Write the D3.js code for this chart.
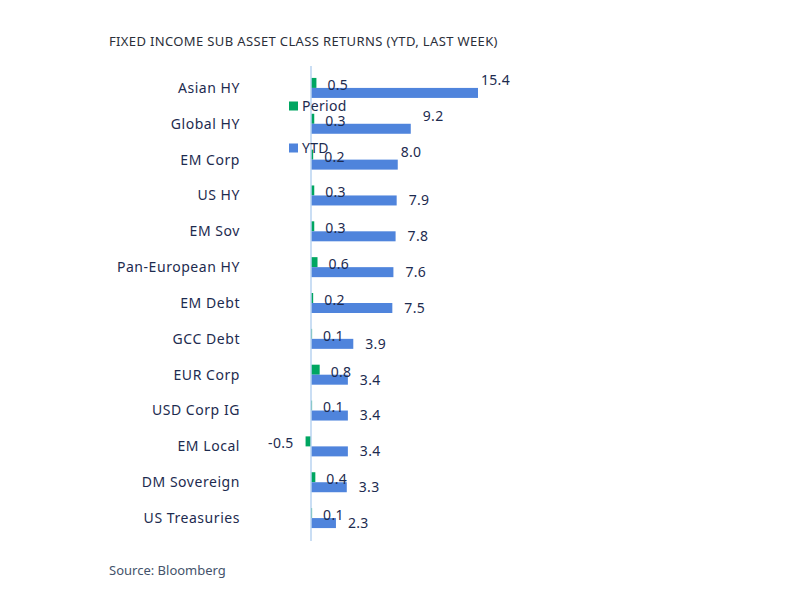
<!DOCTYPE html>
<html>
<head>
<meta charset="utf-8">
<script src="https://cdn.jsdelivr.net/npm/d3@7"></script>
<style>
  html, body { margin: 0; padding: 0; background: #ffffff; }
  svg { display: block; font-family: "Noto Sans", "Open Sans", sans-serif; }
</style>
</head>
<body>
<svg id="chart" width="800" height="600"></svg>
<script>
const categories = ["Asian HY", "Global HY", "EM Corp", "US HY", "EM Sov", "Pan-European HY",
  "EM Debt", "GCC Debt", "EUR Corp", "USD Corp IG", "EM Local", "DM Sovereign", "US Treasuries"];
const periodValues = [0.5, 0.3, 0.2, 0.3, 0.3, 0.6, 0.2, 0.1, 0.8, 0.1, -0.5, 0.4, 0.1];
const ytdValues = [15.4, 9.2, 8.0, 7.9, 7.8, 7.6, 7.5, 3.9, 3.4, 3.4, 3.4, 3.3, 2.3];
const seriesNames = ["Period", "YTD"];
const titleText = "FIXED INCOME SUB ASSET CLASS RETURNS (YTD, LAST WEEK)";
const sourceText = "Source: Bloomberg";

const colors = { Period: "#00a661", YTD: "#4f84dc" };
const textColor = "#1d2b4f";
const fmt = v => d3.format(".1f")(v).replace("\u2212", "-");

const svg = d3.select("#chart");

const x = d3.scaleLinear().domain([0, d3.max(ytdValues)]).range([311, 478]);
const y = d3.scaleBand().domain(categories).range([70, 536]);
const sub = d3.scaleBand().domain(seriesNames).range([-10, 10]);

svg.append("text").attr("x", 109).attr("y", 45.5)
  .attr("font-size", 13).attr("letter-spacing", 0.36).attr("fill", "#2b2f3a").text(titleText);

svg.append("text").attr("x", 109).attr("y", 575)
  .attr("font-size", 13).attr("fill", "#44536b").text(sourceText);

// category labels
svg.append("g").selectAll("text").data(categories).join("text")
  .attr("x", 240).attr("y", d => y(d) + y.bandwidth() / 2)
  .attr("dy", "0.35em").attr("text-anchor", "end")
  .attr("font-size", 14).attr("letter-spacing", 0.55)
  .attr("fill", textColor).text(d => d);

const rows = categories.map((c, i) => ({ cat: c, i, Period: periodValues[i], YTD: ytdValues[i] }));

const g = svg.append("g");
seriesNames.forEach(s => {
  g.append("g").selectAll("rect").data(rows).join("rect")
    .attr("x", d => x(Math.min(0, d[s])))
    .attr("width", d => Math.abs(x(d[s]) - x(0)))
    .attr("y", d => y(d.cat) + y.bandwidth() / 2 + sub(s))
    .attr("height", sub.bandwidth())
    .attr("fill", colors[s]);
});

// zero axis line
svg.append("line").attr("x1", x(0)).attr("x2", x(0)).attr("y1", 66).attr("y2", 541)
  .attr("stroke", "#b9d3f0").attr("stroke-width", 1.5);

// period labels
svg.append("g").selectAll("text").data(rows).join("text")
  .attr("x", d => d.Period >= 0 ? x(d.Period) + 11 : x(d.Period) - 12)
  .attr("y", d => y(d.cat) + y.bandwidth() / 2 - 3)
  .attr("dy", "0.35em")
  .attr("text-anchor", d => d.Period >= 0 ? "start" : "end")
  .attr("font-size", 14).attr("letter-spacing", 0.3).attr("fill", textColor)
  .text(d => fmt(d.Period));

// ytd labels (top rows lifted above their bars to clear the legend area)
svg.append("g").selectAll("text").data(rows).join("text")
  .attr("x", d => x(d.YTD) + (d.i < 3 && d.i !== 1 ? 3 : 12))
  .attr("y", d => y(d.cat) + y.bandwidth() / 2 + (d.i < 3 ? -8 : 5))
  .attr("dy", "0.35em")
  .attr("font-size", 14).attr("letter-spacing", 0.3).attr("fill", textColor)
  .text(d => fmt(d.YTD));

// legend
const legend = svg.append("g");
seriesNames.forEach((s, k) => {
  const ly = 106 + k * 42;
  legend.append("rect").attr("x", 289).attr("y", ly - 4.5).attr("width", 9).attr("height", 9)
    .attr("fill", colors[s]);
  legend.append("text").attr("x", 302).attr("y", ly).attr("dy", "0.35em")
    .attr("font-size", 14).attr("letter-spacing", 0.3).attr("fill", textColor).text(s);
});
</script>
</body>
</html>
